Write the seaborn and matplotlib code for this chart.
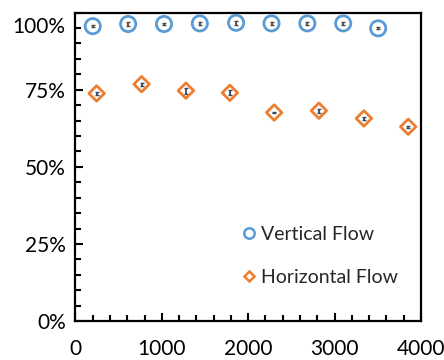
import matplotlib
matplotlib.use("Agg")
import matplotlib.pyplot as plt
import matplotlib.transforms as mtransforms
from matplotlib.ticker import MultipleLocator, PercentFormatter
from matplotlib.lines import Line2D
import seaborn as sns
import pandas as pd

# ---- data ----
vertical_x = [200, 610, 1025, 1440, 1860, 2270, 2685, 3100, 3505]
vertical_y = [95.6, 96.3, 96.3, 96.5, 96.7, 96.5, 96.5, 96.5, 94.9]
vertical_err = [0.4, 0.6, 0.4, 0.4, 0.6, 0.4, 0.4, 0.4, 0.3]

horizontal_x = [245, 766, 1279, 1788, 2301, 2819, 3340, 3853]
horizontal_y = [73.8, 76.8, 74.7, 74.0, 67.6, 68.2, 65.7, 63.0]
horizontal_err = [0.4, 0.5, 1.0, 0.8, 0.3, 0.7, 0.6, 0.3]

series_labels = ["Vertical Flow", "Horizontal Flow"]
x_ticks = [0, 1000, 2000, 3000, 4000]
y_ticks = [0, 25, 50, 75, 100]

BLUE = "#5B9BD5"
ORANGE = "#ED7D31"

sns.set_theme(style="ticks")
plt.rcParams["font.family"] = ["Lato", "DejaVu Sans"]

fig = plt.figure(figsize=(4.44, 3.6), dpi=100)
ax = fig.add_axes([0.170, 0.108, 0.778, 0.857])

df_v = pd.DataFrame({"x": vertical_x, "y": vertical_y})
df_h = pd.DataFrame({"x": horizontal_x, "y": horizontal_y})

# tiny error bars inside markers
ax.errorbar(vertical_x, vertical_y, yerr=vertical_err, fmt="none",
            ecolor="#4a4a4a", elinewidth=1.3, capsize=1.2, capthick=1.0, zorder=2)
ax.errorbar(horizontal_x, horizontal_y, yerr=horizontal_err, fmt="none",
            ecolor="#34495e", elinewidth=1.3, capsize=1.2, capthick=1.0, zorder=2)

sns.scatterplot(data=df_v, x="x", y="y", marker="o", s=120,
                facecolor="none", edgecolor=BLUE, linewidth=2,
                ax=ax, zorder=3, legend=False)
sns.scatterplot(data=df_h, x="x", y="y", marker="D", s=62,
                facecolor="none", edgecolor=ORANGE, linewidth=2,
                ax=ax, zorder=3, legend=False)

handles = [
    Line2D([], [], linestyle="none", marker="o", markersize=7.5,
           markerfacecolor="none", markeredgecolor=BLUE, markeredgewidth=1.8),
    Line2D([], [], linestyle="none", marker="D", markersize=5.5,
           markerfacecolor="none", markeredgecolor=ORANGE, markeredgewidth=1.8),
]
ax.legend(handles, series_labels, loc="upper left",
          bbox_to_anchor=(0.475, 0.309), frameon=False, fontsize=14,
          handletextpad=0.1, handlelength=1.0, labelspacing=1.35,
          borderaxespad=0, borderpad=0)

ax.set_xlim(0, 4000)
ax.set_ylim(0, 100)
ax.set_xticks(x_ticks)
ax.set_yticks(y_ticks)
ax.xaxis.set_minor_locator(MultipleLocator(200))
ax.yaxis.set_minor_locator(MultipleLocator(5))
ax.yaxis.set_major_formatter(PercentFormatter(100, decimals=0))
ax.set_xlabel("")
ax.set_ylabel("")

for s in ax.spines.values():
    s.set_visible(True)
    s.set_color("black")
    s.set_linewidth(1.6)

ax.tick_params(axis="both", which="both", direction="in", colors="black",
               labelsize=15)
ax.tick_params(axis="x", which="major", length=6, width=1.5, pad=13,
               bottom=True, top=False)
ax.tick_params(axis="x", which="minor", length=4.5, width=1.5,
               bottom=True, top=False)
ax.tick_params(axis="y", which="major", length=6, width=1.5, pad=7,
               left=True, right=False)
ax.tick_params(axis="y", which="minor", length=4.5, width=1.5,
               left=True, right=False)

# the top label sits slightly below the top edge in the reference
fig.canvas.draw()
for lab in ax.get_yticklabels():
    if lab.get_text().startswith("100"):
        lab.set_transform(lab.get_transform() +
                          mtransforms.ScaledTranslation(0, -9 / 72, fig.dpi_scale_trans))

fig.savefig("out.png", dpi=100)
